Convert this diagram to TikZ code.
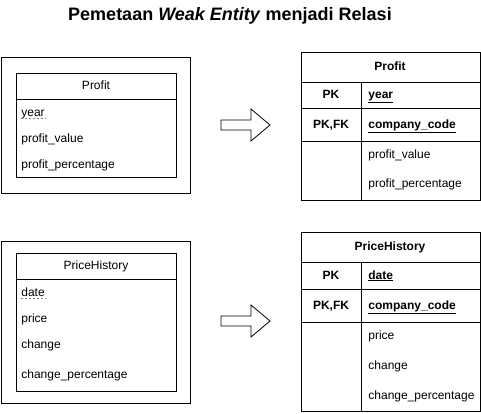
\documentclass[tikz,border=0pt]{standalone}
\usepackage{fontspec}
\setmainfont{Liberation Sans}
\usepackage{tikz}

\tikzset{
  lbl/.style={font=\fontsize{12}{14}\selectfont, inner sep=0pt, text height=8.6pt, text depth=2.5pt},
  pk/.style={lbl, font=\fontsize{12}{14}\selectfont\bfseries},
  partkey/.style={gray, dash pattern=on 2pt off 2pt, line width=0.8pt}
}

\begin{document}
\begin{tikzpicture}[x=1pt,y=-1pt,line width=0.8pt]
\useasboundingbox (0,0) rectangle (481,413);

\node[font=\fontsize{18}{21}\selectfont\bfseries] (title) at (230,16) {Pemetaan \textit{Weak Entity} menjadi Relasi};

% weak entity Profit
\draw (1,57) rectangle (190,193);
\draw (16,73) rectangle (176,177);
\draw (16,99) -- (176,99);
\node[lbl] (e1) at (96,86) {Profit};
\node[lbl,anchor=west] (e1a) at (21,113) {year};
\node[lbl,anchor=west] (e1b) at (21,139) {profit\_value};
\node[lbl,anchor=west] (e1c) at (21,165) {profit\_percentage};
\draw[partkey] ([yshift=-2.5pt]e1a.base west) -- ([yshift=-2.5pt]e1a.base east);

% relasi Profit
\draw (301,52) rectangle (480,200);
\draw (301,82) -- (480,82);
\draw (301,108) -- (480,108);
\draw (301,141) -- (480,141);
\draw (361,82) -- (361,200);
\node[pk] (r1) at (390,67) {Profit};
\node[pk] (r1k1) at (331,95) {PK};
\node[pk,anchor=west] (r1a) at (368,95) {\underline{year}};
\node[pk] (r1k2) at (331,125) {PK,FK};
\node[pk,anchor=west] (r1b) at (368,125) {\underline{company\_code}};
\node[lbl,anchor=west] (r1c) at (368,155) {profit\_value};
\node[lbl,anchor=west] (r1d) at (368,184) {profit\_percentage};

% weak entity PriceHistory
\draw (1,241) rectangle (190,403);
\draw (16,253) rectangle (176,391);
\draw (16,279) -- (176,279);
\node[lbl] (e2) at (96,266) {PriceHistory};
\node[lbl,anchor=west] (e2a) at (21,293) {date};
\node[lbl,anchor=west] (e2b) at (21,319) {price};
\node[lbl,anchor=west] (e2c) at (21,345) {change};
\node[lbl,anchor=west] (e2d) at (21,375) {change\_percentage};
\draw[partkey] ([yshift=-2.5pt]e2a.base west) -- ([yshift=-2.5pt]e2a.base east);

% relasi PriceHistory
\draw (301,232) rectangle (480,411);
\draw (301,262) -- (480,262);
\draw (301,289) -- (480,289);
\draw (301,322) -- (480,322);
\draw (361,262) -- (361,411);
\node[pk] (r2) at (390,247) {PriceHistory};
\node[pk] (r2k1) at (331,276) {PK};
\node[pk,anchor=west] (r2a) at (368,276) {\underline{date}};
\node[pk] (r2k2) at (331,306) {PK,FK};
\node[pk,anchor=west] (r2b) at (368,306) {\underline{company\_code}};
\node[lbl,anchor=west] (r2c) at (368,336) {price};
\node[lbl,anchor=west] (r2d) at (368,366) {change};
\node[lbl,anchor=west] (r2e) at (368,396) {change\_percentage};

% panah
\draw (221,120) -- (251,120) -- (251,109) -- (270,125) -- (251,141) -- (251,130) -- (221,130) -- cycle;
\draw (221,316) -- (251,316) -- (251,305) -- (270,321) -- (251,337) -- (251,326) -- (221,326) -- cycle;
\end{tikzpicture}
\end{document}
